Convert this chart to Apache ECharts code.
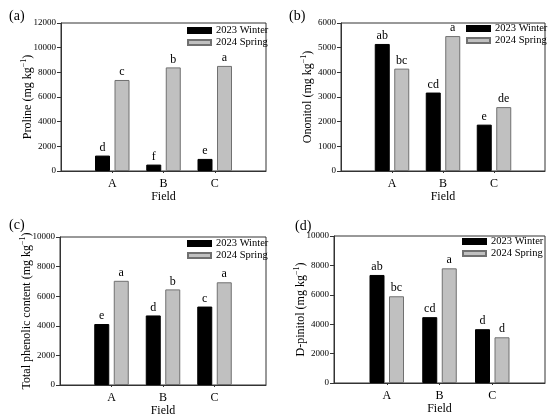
<!DOCTYPE html>
<html>
<head>
<meta charset="utf-8">
<script src="https://cdn.jsdelivr.net/npm/echarts@6/dist/echarts.min.js"></script>
<style>
  html, body { margin: 0; padding: 0; background: #fff; }
  #chart { width: 550px; height: 419px; }
</style>
</head>
<body>
<div id="chart"></div>
<script>
var fields = ['A', 'B', 'C'];
var seasons = ['2023 Winter', '2024 Spring'];

// (a) Proline
var prolineWinter = [1250, 520, 980];
var prolineSpring = [7380, 8400, 8520];
var prolineWinterSig = ['d', 'f', 'e'];
var prolineSpringSig = ['c', 'b', 'a'];

// (b) Ononitol
var ononitolWinter = [5150, 3180, 1880];
var ononitolSpring = [4150, 5470, 2590];
var ononitolWinterSig = ['ab', 'cd', 'e'];
var ononitolSpringSig = ['bc', 'a', 'de'];

// (c) Total phenolic content
var phenolicWinter = [4120, 4700, 5300];
var phenolicSpring = [7040, 6460, 6940];
var phenolicWinterSig = ['e', 'd', 'c'];
var phenolicSpringSig = ['a', 'b', 'a'];

// (d) D-pinitol
var pinitolWinter = [7350, 4480, 3660];
var pinitolSpring = [5900, 7800, 3110];
var pinitolWinterSig = ['ab', 'cd', 'd'];
var pinitolSpringSig = ['bc', 'a', 'd'];

var serif = '"Liberation Serif", "Times New Roman", serif';
var axisColor = '#333';

// empty slots at both ends so A, B, C sit at 1/4, 2/4, 3/4 of the axis
var cats = [''].concat(fields, ['']);
function pad(arr){ return [null].concat(arr, [null]); }

var panels = [
    {tag: '(a)', name: 'Proline', max: 12000, step: 2000, winter: prolineWinter, spring: prolineSpring,
     wSig: prolineWinterSig, sSig: prolineSpringSig,
     grid: {left: 61, top: 23, width: 205, height: 148}, tagPos: [4, 4], legendPos: [187, 25]},
    {tag: '(b)', name: 'Ononitol', max: 6000, step: 1000, winter: ononitolWinter, spring: ononitolSpring,
     wSig: ononitolWinterSig, sSig: ononitolSpringSig,
     grid: {left: 341, top: 23, width: 204, height: 148}, tagPos: [284, 4], legendPos: [466, 23]},
    {tag: '(c)', name: 'Total phenolic content', max: 10000, step: 2000, winter: phenolicWinter, spring: phenolicSpring,
     wSig: phenolicWinterSig, sSig: phenolicSpringSig,
     grid: {left: 60, top: 237, width: 206, height: 148}, tagPos: [4, 213], legendPos: [187, 238]},
    {tag: '(d)', name: 'D-pinitol', max: 10000, step: 2000, winter: pinitolWinter, spring: pinitolSpring,
     wSig: pinitolWinterSig, sSig: pinitolSpringSig,
     grid: {left: 334, top: 236, width: 211, height: 147}, tagPos: [290, 214], legendPos: [462, 236]}
];

var option = {
    animation: false,
    backgroundColor: '#fff',
    textStyle: {fontFamily: serif},
    title: [],
    legend: [],
    grid: [],
    xAxis: [],
    yAxis: [],
    series: []
};

panels.forEach(function(p, i){
    option.title.push({
        text: p.tag, left: p.tagPos[0], top: p.tagPos[1],
        textStyle: {fontFamily: serif, fontSize: 14, fontWeight: 'normal', color: '#000'}
    });

    option.legend.push({
        data: seasons, orient: 'vertical', left: p.legendPos[0], top: p.legendPos[1],
        padding: 0, itemWidth: 23, itemHeight: 5, itemGap: 1, icon: 'rect',
        textStyle: {fontFamily: serif, fontSize: 10.5, color: '#000'}
    });

    option.grid.push({
        left: p.grid.left, top: p.grid.top, width: p.grid.width, height: p.grid.height,
        show: true, borderColor: axisColor, borderWidth: 1, backgroundColor: 'transparent'
    });

    option.xAxis.push({
        type: 'category', gridIndex: i, data: cats, boundaryGap: false,
        name: 'Field', nameLocation: 'middle', nameGap: 20, nameMoveOverlap: false,
        nameTextStyle: {fontFamily: serif, fontSize: 12, color: '#000'},
        axisLine: {lineStyle: {color: axisColor, width: 1}},
        axisTick: {length: 2, lineStyle: {color: axisColor},
                   interval: function(idx){ return idx > 0 && idx < 4; }},
        axisLabel: {fontFamily: serif, fontSize: 12, color: '#000', margin: 7, interval: 0},
        splitLine: {show: false}
    });

    option.yAxis.push({
        type: 'value', gridIndex: i, min: 0, max: p.max, interval: p.step,
        name: '{m|' + p.name + ' (mg kg}{s|−1}{m|)}',
        nameLocation: 'middle', nameGap: 25, nameRotate: 90, nameMoveOverlap: false,
        nameTextStyle: {
            fontFamily: serif, fontSize: 12, color: '#000',
            rich: {
                m: {fontFamily: serif, fontSize: 12, lineHeight: 16, color: '#000'},
                s: {fontFamily: serif, fontSize: 8, lineHeight: 10, verticalAlign: 'top', color: '#000'}
            }
        },
        axisLine: {show: true, lineStyle: {color: axisColor, width: 1}},
        axisTick: {show: true, length: 4, lineStyle: {color: axisColor}},
        axisLabel: {fontFamily: serif, fontSize: 9, color: '#000', margin: 5,
                    formatter: function(v){ return String(v); }},
        splitLine: {show: false}
    });

    option.series.push({
        name: seasons[0], type: 'bar', xAxisIndex: i, yAxisIndex: i,
        data: pad(p.winter), barWidth: 15, barGap: '30%',
        itemStyle: {color: '#000', borderColor: '#000', borderWidth: 1},
        label: {show: true, position: 'top', distance: 2, fontFamily: serif, fontSize: 12, color: '#000',
                formatter: function(d){ return p.wSig[d.dataIndex - 1]; }}
    });
    option.series.push({
        name: seasons[1], type: 'bar', xAxisIndex: i, yAxisIndex: i,
        data: pad(p.spring), barWidth: 15, barGap: '30%',
        itemStyle: {color: '#c0c0c0', borderColor: '#707070', borderWidth: 1},
        label: {show: true, position: 'top', distance: 2, fontFamily: serif, fontSize: 12, color: '#000',
                formatter: function(d){ return p.sSig[d.dataIndex - 1]; }}
    });
});

var chart = echarts.init(document.getElementById('chart'));
chart.setOption(option);
</script>
</body>
</html>
